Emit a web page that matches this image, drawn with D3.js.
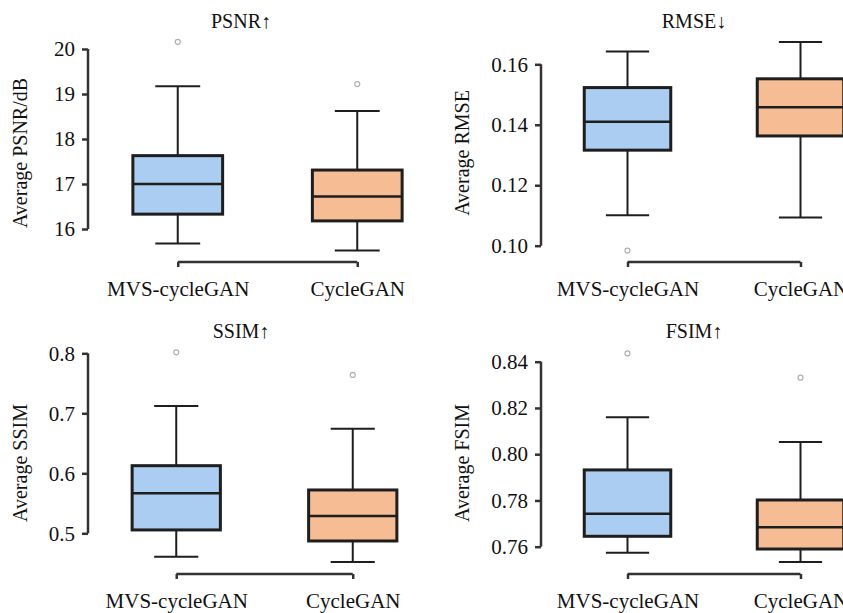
<!DOCTYPE html>
<html>
<head>
<meta charset="utf-8">
<script src="https://cdn.jsdelivr.net/npm/d3@7"></script>
<style>
  body { margin: 0; background: #fff; }
  svg text { font-family: "Liberation Serif", "Times New Roman", serif; fill: #111; }
</style>
</head>
<body>
<svg id="canvas"></svg>
<script>
// categories and box statistics: [lower whisker, q1, median, q3, upper whisker]
const categories = ["MVS-cycleGAN", "CycleGAN"];

const psnrStats = [[15.68, 16.33, 17.0, 17.63, 19.17], [15.52, 16.18, 16.72, 17.31, 18.62]];
const psnrOutliers = [[20.16], [19.22]];
const psnrTicks = [16, 17, 18, 19, 20];

const rmseStats = [[0.1101, 0.1316, 0.141, 0.1523, 0.1642], [0.1093, 0.1363, 0.1458, 0.1552, 0.1674]];
const rmseOutliers = [[0.0984], []];
const rmseTicks = [0.10, 0.12, 0.14, 0.16];

const ssimStats = [[0.461, 0.5056, 0.5667, 0.6127, 0.7122], [0.4522, 0.4872, 0.5289, 0.5722, 0.6744]];
const ssimOutliers = [[0.8017], [0.7639]];
const ssimTicks = [0.5, 0.6, 0.7, 0.8];

const fsimStats = [[0.7574, 0.7645, 0.7743, 0.7932, 0.816], [0.7534, 0.759, 0.7684, 0.7802, 0.8053]];
const fsimOutliers = [[0.8436], [0.8331]];
const fsimTicks = [0.76, 0.78, 0.80, 0.82, 0.84];

const colors = ["#abcdf2", "#f6bd95"];
const serif = "'Liberation Serif', 'Times New Roman', serif";

function getChartConfig() {
  let canvasWidth = 843,
    canvasHeight = 613;
  let svg = d3.select("#canvas");
  svg.attr("width", canvasWidth).attr("height", canvasHeight);
  return { canvasWidth, canvasHeight, svg };
}

function styleAxis(sel) {
  sel.attr("font-family", serif).attr("font-size", 21);
  sel.select(".domain").attr("stroke", "#333").attr("stroke-width", 2.5);
  sel.selectAll(".tick line").attr("stroke", "#333").attr("stroke-width", 2.5);
  sel.selectAll(".tick text")
    .attr("font-family", serif)
    .style("font-family", serif)
    .style("font-size", "21px")
    .attr("fill", "#111");
}

function drawPanel(config, p) {
  let { svg } = config;
  let g = svg.append("g");

  let xScale = d3.scalePoint().domain(categories).range([p.x0, p.x1]).padding(0.5);
  let step = xScale.step();
  let boxW = step * 0.5;
  let yScale = d3.scaleLinear().domain(p.yDomain).range(p.yRange);

  // y axis (trimmed spine)
  let axisY = d3.axisLeft(yScale).tickValues(p.ticks).tickSize(6).tickSizeOuter(0).tickPadding(7)
    .tickFormat(p.fmt);
  let ya = g.append("g").attr("transform", `translate(${p.x0},0)`).call(axisY);
  styleAxis(ya);
  ya.select(".domain")
    .attr("d", `M0,${yScale(p.ticks[0])}V${yScale(p.ticks[p.ticks.length - 1])}`);

  // x axis (trimmed spine)
  let axisX = d3.axisBottom(xScale).tickSize(5).tickSizeOuter(0).tickPadding(14);
  let xa = g.append("g").attr("transform", `translate(0,${p.xAxisY})`).call(axisX);
  styleAxis(xa);
  xa.select(".domain")
    .attr("d", `M${xScale(categories[0])},0H${xScale(categories[1])}`);

  // boxes
  categories.forEach((c, i) => {
    let [lo, q1, med, q3, hi] = p.stats[i];
    let cx = xScale(c);
    let stroke = "#1e1e1e";

    g.append("line").attr("x1", cx).attr("x2", cx).attr("y1", yScale(q3)).attr("y2", yScale(hi))
      .attr("stroke", stroke).attr("stroke-width", 2);
    g.append("line").attr("x1", cx).attr("x2", cx).attr("y1", yScale(q1)).attr("y2", yScale(lo))
      .attr("stroke", stroke).attr("stroke-width", 2);
    [lo, hi].forEach((v) => {
      g.append("line").attr("x1", cx - boxW / 4).attr("x2", cx + boxW / 4)
        .attr("y1", yScale(v)).attr("y2", yScale(v))
        .attr("stroke", stroke).attr("stroke-width", 2);
    });

    g.append("rect").attr("x", cx - boxW / 2).attr("width", boxW)
      .attr("y", yScale(q3)).attr("height", yScale(q1) - yScale(q3))
      .attr("fill", colors[i]).attr("stroke", stroke).attr("stroke-width", 3);

    g.append("line").attr("x1", cx - boxW / 2).attr("x2", cx + boxW / 2)
      .attr("y1", yScale(med)).attr("y2", yScale(med))
      .attr("stroke", stroke).attr("stroke-width", 2.5);

    g.selectAll(null).data(p.outliers[i]).enter().append("circle")
      .attr("cx", cx).attr("cy", (d) => yScale(d)).attr("r", 2.5)
      .attr("fill", "none").attr("stroke", "#b0b0b0").attr("stroke-width", 1.2);
  });

  g.append("text").attr("x", p.x0 + 153).attr("y", p.titleY)
    .attr("text-anchor", "middle").style("font-size", "20px").text(p.title);

  g.append("text")
    .attr("transform", `translate(${p.x0 + p.labelDx},${p.labelY}) rotate(-90)`)
    .attr("text-anchor", "middle").style("font-size", "20px").text(p.label);
}

function showData() {
  let config = getChartConfig();
  let panels = [
    { title: "PSNR↑", label: "Average PSNR/dB", stats: psnrStats, outliers: psnrOutliers, ticks: psnrTicks,
      fmt: d3.format("d"), x0: 88, x1: 447, yDomain: [16, 20], yRange: [229, 49],
      xAxisY: 262, titleY: 28, labelY: 153, labelDx: -61 },
    { title: "RMSE↓", label: "Average RMSE", stats: rmseStats, outliers: rmseOutliers, ticks: rmseTicks,
      fmt: d3.format(".2f"), x0: 541, x1: 887, yDomain: [0.10, 0.16], yRange: [245.7, 64.3],
      xAxisY: 262, titleY: 28, labelY: 153, labelDx: -72 },
    { title: "SSIM↑", label: "Average SSIM", stats: ssimStats, outliers: ssimOutliers, ticks: ssimTicks,
      fmt: d3.format(".1f"), x0: 88, x1: 441, yDomain: [0.5, 0.8], yRange: [533.3, 353.3],
      xAxisY: 574, titleY: 338, labelY: 463, labelDx: -61 },
    { title: "FSIM↑", label: "Average FSIM", stats: fsimStats, outliers: fsimOutliers, ticks: fsimTicks,
      fmt: d3.format(".2f"), x0: 541, x1: 887, yDomain: [0.76, 0.84], yRange: [546.7, 361.7],
      xAxisY: 574, titleY: 338, labelY: 463, labelDx: -72 },
  ];
  panels.forEach((p) => drawPanel(config, p));
}

showData();
</script>
</body>
</html>
